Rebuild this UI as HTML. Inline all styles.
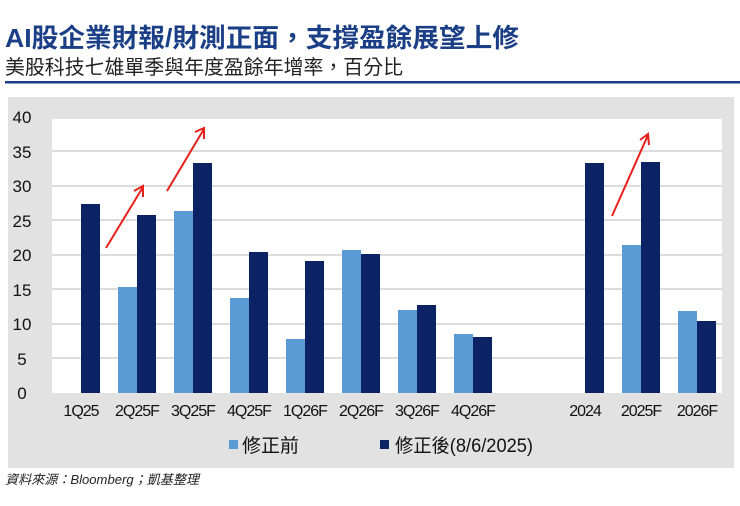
<!DOCTYPE html>
<html><head><meta charset="utf-8"><style>
body{margin:0;background:#fff;width:740px;height:501px;overflow:hidden;font-family:"Liberation Sans","Noto Sans CJK TC",sans-serif}
</style></head><body>
<svg width="740" height="501" xmlns="http://www.w3.org/2000/svg" font-family="Liberation Sans, Noto Sans CJK TC, sans-serif">
<text x="5" y="47" font-size="26" font-weight="bold" fill="#1b3f86" textLength="514" lengthAdjust="spacingAndGlyphs">AI股企業財報/財測正面，支撐盈餘展望上修</text>
<text x="5" y="74" font-size="20" fill="#222" textLength="398" lengthAdjust="spacingAndGlyphs">美股科技七雄單季與年度盈餘年增率，百分比</text>
<rect x="5" y="81" width="735" height="2.5" fill="#1b3f86"/>
<rect x="8" y="97" width="726" height="371" fill="#e2e2e2"/>
<rect x="52" y="119" width="670" height="274" fill="#fff"/>
<g stroke="#dcdcdc" stroke-width="2">
<line x1="52" x2="722" y1="151" y2="151"/><line x1="52" x2="722" y1="186" y2="186"/>
<line x1="52" x2="722" y1="220" y2="220"/><line x1="52" x2="722" y1="255" y2="255"/>
<line x1="52" x2="722" y1="289" y2="289"/><line x1="52" x2="722" y1="324" y2="324"/>
<line x1="52" x2="722" y1="358" y2="358"/>
</g>
<g font-size="17" fill="#111" text-anchor="middle">
<text x="22" y="123">40</text><text x="22" y="158">35</text><text x="22" y="192">30</text>
<text x="22" y="227">25</text><text x="22" y="261">20</text><text x="22" y="296">15</text>
<text x="22" y="330">10</text><text x="22" y="365">5</text><text x="22" y="399">0</text>
</g>
<g fill="#5b9bd5">
<rect x="118" y="287" width="19" height="106"/>
<rect x="174" y="211" width="19" height="182"/>
<rect x="230" y="298" width="19" height="95"/>
<rect x="286" y="339" width="19" height="54"/>
<rect x="342" y="250" width="19" height="143"/>
<rect x="398" y="310" width="19" height="83"/>
<rect x="454" y="334" width="19" height="59"/>
<rect x="622" y="245" width="19" height="148"/>
<rect x="678" y="311" width="19" height="82"/>
</g>
<g fill="#0b2265">
<rect x="81" y="204" width="19" height="189"/>
<rect x="137" y="215" width="19" height="178"/>
<rect x="193" y="163" width="19" height="230"/>
<rect x="249" y="252" width="19" height="141"/>
<rect x="305" y="261" width="19" height="132"/>
<rect x="361" y="254" width="19" height="139"/>
<rect x="417" y="305" width="19" height="88"/>
<rect x="473" y="337" width="19" height="56"/>
<rect x="585" y="163" width="19" height="230"/>
<rect x="641" y="162" width="19" height="231"/>
<rect x="697" y="321" width="19" height="72"/>
</g>
<g stroke="#e8201c" stroke-width="2" fill="none">
<path d="M106 248 L143 187 M134 191 L143 186 L143 197"/>
<path d="M167 191 L204 129 M195 132 L204 128 L204 139"/>
<path d="M612 216 L648 135 M640 140 L648 134 L649 145"/>
</g>
<g font-size="16" fill="#111" text-anchor="middle" letter-spacing="-1">
<text x="81" y="416">1Q25</text><text x="137" y="416">2Q25F</text><text x="193" y="416">3Q25F</text>
<text x="249" y="416">4Q25F</text><text x="305" y="416">1Q26F</text><text x="361" y="416">2Q26F</text>
<text x="417" y="416">3Q26F</text><text x="473" y="416">4Q26F</text>
<text x="585" y="416">2024</text><text x="641" y="416">2025F</text><text x="697" y="416">2026F</text>
</g>
<rect x="229" y="440" width="9" height="9" fill="#5b9bd5"/>
<text x="242" y="452" font-size="19" fill="#111">修正前</text>
<rect x="380" y="440" width="9" height="9" fill="#0b2265"/>
<text x="395" y="452" font-size="19" fill="#111" textLength="138" lengthAdjust="spacingAndGlyphs">修正後(8/6/2025)</text>
<text x="5" y="484" font-size="13" font-style="italic" fill="#222" textLength="194" lengthAdjust="spacingAndGlyphs">資料來源：Bloomberg；凱基整理</text>
</svg>
</body></html>
